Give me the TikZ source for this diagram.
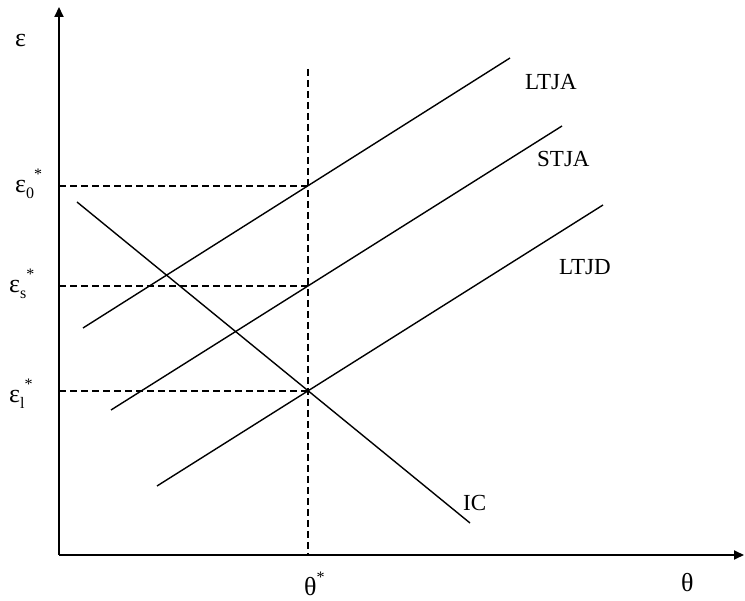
\documentclass[tikz,border=0pt]{standalone}
\usepackage{fontspec}
\setmainfont{Liberation Serif}
\usetikzlibrary{arrows.meta}
\tikzset{
  axis/.style={line width=1.8pt,-{Triangle[length=10pt,width=9pt]}},
  curve/.style={line width=1.4pt},
  guide/.style={line width=1.3pt,dash pattern=on 7pt off 4pt},
  lbl/.style={inner sep=0pt,anchor=base west,font=\fontsize{23}{27}\selectfont},
  glbl/.style={inner sep=0pt,anchor=base west,font=\fontsize{26}{30}\selectfont},
}
\newcommand{\subs}[1]{\raisebox{-0.22em}{\fontsize{16}{16}\selectfont #1}}
\newcommand{\sups}[1]{\raisebox{0.5em}{\fontsize{16}{16}\selectfont #1}}
\begin{document}
\begin{tikzpicture}[x=1pt,y=-1pt]
\useasboundingbox (0,0) rectangle (745,601);
% axes
\coordinate (O) at (59,555);
\coordinate (ytop) at (59,7);
\coordinate (xend) at (744,555);
\draw[axis] (O) -- (ytop);
\draw[axis] (O) -- (xend);
% key points
\coordinate (P0) at (308,186);
\coordinate (Ps) at (308,286);
\coordinate (Pl) at (308,391);
\coordinate (Y0) at (59,186);
\coordinate (Ys) at (59,286);
\coordinate (Yl) at (59,391);
\coordinate (Vt) at (308,69);
\coordinate (Vb) at (308,555);
% dashed guides
\draw[guide] (Y0) -- (P0);
\draw[guide] (Ys) -- (Ps);
\draw[guide] (Yl) -- (Pl);
\draw[guide] (Vt) -- (Vb);
% lines
\coordinate (ltjaA) at (83,328);
\coordinate (ltjaB) at (510,58);
\coordinate (stjaA) at (111,410);
\coordinate (stjaB) at (562,126);
\coordinate (ltjdA) at (157,486);
\coordinate (ltjdB) at (603,205);
\coordinate (icA) at (77,202);
\coordinate (icB) at (470,523);
\draw[curve] (ltjaA) -- (ltjaB);
\draw[curve] (stjaA) -- (stjaB);
\draw[curve] (ltjdA) -- (ltjdB);
\draw[curve] (icA) -- (icB);
% labels
\node[lbl] (LTJA) at (525,90) {LTJA};
\node[lbl] (STJA) at (537,167) {STJA};
\node[lbl] (LTJD) at (559,275) {LTJD};
\node[lbl] (IC) at (463,511) {IC};
\node[glbl] (eps) at (15,47) {ε};
\node[glbl] (e0) at (15,193) {ε\subs{0}\sups{*}};
\node[glbl] (es) at (9,293) {ε\subs{s}\sups{*}};
\node[glbl] (el) at (9,403) {ε\subs{l}\sups{*}};
\node[glbl] (th0) at (304,595) {θ\sups{*}};
\node[glbl] (th) at (681,591) {θ};
\end{tikzpicture}
\end{document}
